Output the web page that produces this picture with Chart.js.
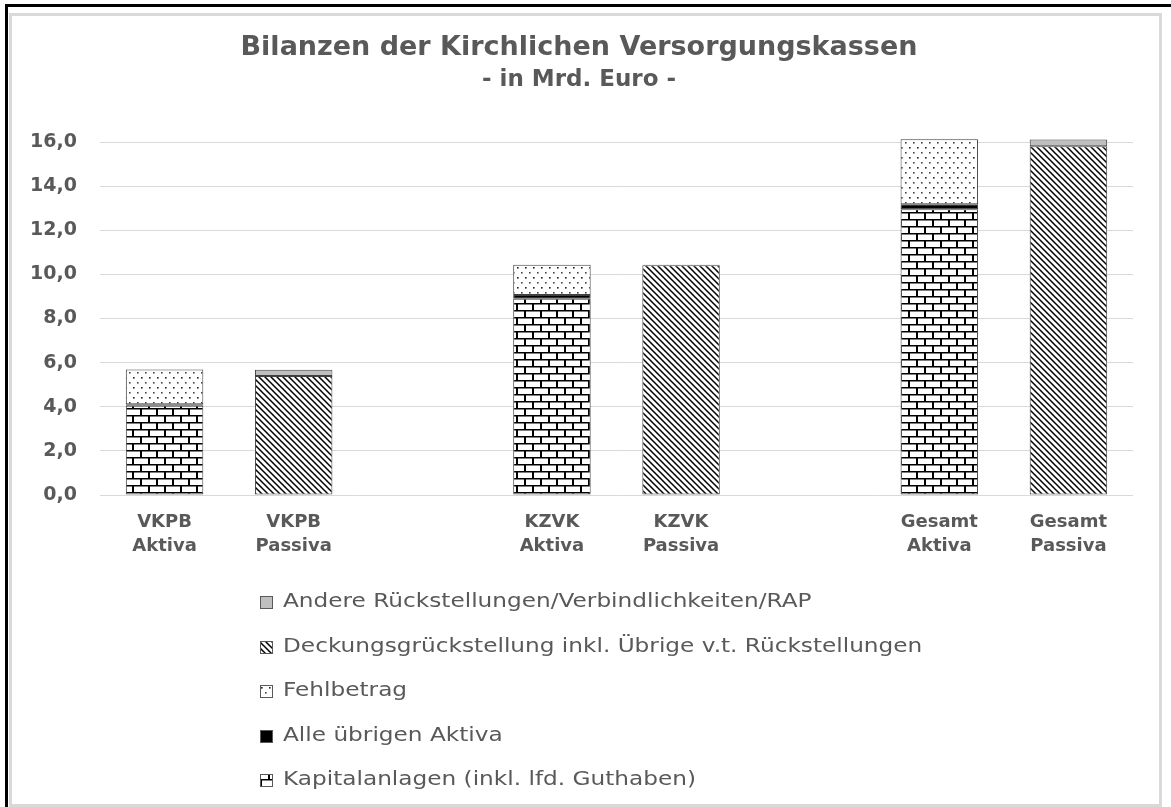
<!DOCTYPE html>
<html>
<head>
<meta charset="utf-8">
<script src="https://cdn.jsdelivr.net/npm/chart.js"></script>
<style>
  body { margin: 0; background: #fff; }
  #frame {
    position: absolute; left: 5px; top: 4px; width: 1166px; height: 803px;
    border-top: 3px solid #000; border-left: 3px solid #000; box-sizing: border-box;
  }
  #box {
    position: absolute; left: 9px; top: 13px; width: 1153px; height: 794px;
    border: 3px solid #d9d9d9; box-sizing: border-box; background: #fff;
  }
  #wrap { position: relative; width: 1147px; height: 788px; }
</style>
</head>
<body>
<div id="frame"></div>
<div id="box"><div id="wrap"><canvas id="js-bilanz-chart"></canvas></div></div>
<script>
// Categories (empty ones make the gaps between the groups)
const categories = [
  ['VKPB', 'Aktiva'], ['VKPB', 'Passiva'], '',
  ['KZVK', 'Aktiva'], ['KZVK', 'Passiva'], '',
  ['Gesamt', 'Aktiva'], ['Gesamt', 'Passiva']
];

// Series values in Mrd. Euro (stack order bottom -> top)
const kapitalanlagen = [4.05, null, null, 8.90, null, null, 12.95, null];
const uebrigeAktiva  = [0.06, null, null, 0.17, null, null, 0.23, null];
const fehlbetrag     = [1.58, null, null, 1.37, null, null, 2.95, null];
const deckung        = [null, 5.39, null, null, 10.42, null, null, 15.81];
const andere         = [null, 0.29, null, null, 0.02, null, null, 0.31];

// Tick labels of the value axis
const yTicks = [0, 2, 4, 6, 8, 10, 12, 14, 16];

const ctx = document.getElementById('js-bilanz-chart').getContext('2d');

// Small tile patterns like the Excel fills
function makePattern(w, h, draw) {
  const c = document.createElement('canvas');
  c.width = w;
  c.height = h;
  const g = c.getContext('2d');
  g.fillStyle = '#fff';
  g.fillRect(0, 0, w, h);
  draw(g);
  return ctx.createPattern(c, 'repeat');
}

const brick = makePattern(16, 14, g => {
  g.fillStyle = '#000';
  g.fillRect(0, 0, 16, 1.5);
  g.fillRect(0, 7, 16, 1.5);
  g.fillRect(0, 0, 2, 7);
  g.fillRect(8, 7, 2, 7);
});

const dots = makePattern(8, 10, g => {
  g.fillStyle = '#222';
  g.fillRect(1, 1, 1.6, 1.6);
  g.fillStyle = '#444';
  g.fillRect(5, 6, 1.6, 1.6);
});

const diagonal = makePattern(6, 6, g => {
  g.strokeStyle = '#000';
  g.lineWidth = 1.5;
  g.beginPath();
  g.moveTo(-1, -1); g.lineTo(7, 7);
  g.moveTo(-1, 5); g.lineTo(1, 7);
  g.moveTo(5, -1); g.lineTo(7, 1);
  g.stroke();
});

const textGray = '#595959';

// Legend as a vertical list under the chart
const listLegend = {
  id: 'listLegend',
  afterDraw(chart) {
    const c = chart.ctx;
    const items = chart.data.datasets.slice().reverse();
    const stretch = 1.16; // the original text runs wider than DejaVu
    c.save();
    c.font = '20px "DejaVu Sans"';
    const textW = stretch * Math.max(...items.map(d => c.measureText(d.label).width));
    const x0 = Math.round((chart.width - (23 + textW)) / 2) + 6;
    let y = chart.chartArea.bottom + 107;
    items.forEach(ds => {
      c.fillStyle = ds.backgroundColor;
      c.fillRect(x0, Math.round(y - 6), 13, 13);
      c.strokeStyle = textGray;
      c.lineWidth = 1;
      c.strokeRect(x0 + 0.5, Math.round(y - 6) + 0.5, 12, 12);
      c.save();
      c.translate(x0 + 23, y);
      c.scale(stretch, 1);
      c.fillStyle = textGray;
      c.textBaseline = 'middle';
      c.fillText(ds.label, 0, 0);
      c.restore();
      y += 44.5;
    });
    c.restore();
  }
};

const barStyle = {
  borderColor: '#404040',
  borderWidth: 1,
  borderSkipped: false,
  barPercentage: 0.6,
  categoryPercentage: 1.0,
  stack: 'bilanz'
};

const config = {
  type: 'bar',
  data: {
    labels: categories,
    datasets: [
      { ...barStyle, label: 'Kapitalanlagen (inkl. lfd. Guthaben)', data: kapitalanlagen, backgroundColor: brick },
      { ...barStyle, label: 'Alle übrigen Aktiva', data: uebrigeAktiva, backgroundColor: '#000' },
      { ...barStyle, label: 'Fehlbetrag', data: fehlbetrag, backgroundColor: dots },
      { ...barStyle, label: 'Deckungsgrückstellung inkl. Übrige v.t. Rückstellungen', data: deckung, backgroundColor: diagonal },
      { ...barStyle, label: 'Andere Rückstellungen/Verbindlichkeiten/RAP', data: andere, backgroundColor: '#BFBFBF' }
    ]
  },
  options: {
    responsive: true,
    maintainAspectRatio: false,
    animation: false,
    events: [],
    layout: { padding: { left: 13, right: 26, top: 0, bottom: 247 } },
    plugins: {
      legend: { display: false },
      tooltip: { enabled: false },
      title: {
        display: true,
        text: 'Bilanzen der Kirchlichen Versorgungskassen',
        color: textGray,
        font: { family: 'DejaVu Sans', size: 27, weight: 'bold', lineHeight: 1.2 },
        padding: { top: 16, bottom: 2 }
      },
      subtitle: {
        display: true,
        text: '- in Mrd. Euro -',
        color: textGray,
        font: { family: 'DejaVu Sans', size: 23, weight: 'bold', lineHeight: 1.2 },
        padding: { top: 0, bottom: 37 }
      }
    },
    scales: {
      x: {
        stacked: true,
        grid: { display: false },
        border: { display: false },
        afterFit: scale => { scale.height = 62; },
        ticks: {
          color: textGray,
          padding: 7,
          autoSkip: false,
          maxRotation: 0,
          font: { family: 'DejaVu Sans', size: 18, weight: 'bold', lineHeight: 1.33 }
        }
      },
      y: {
        stacked: true,
        min: 0,
        max: 16.5,
        afterFit: scale => { scale.width = 75; },
        afterBuildTicks: scale => { scale.ticks = yTicks.map(v => ({ value: v })); },
        grid: { color: '#d9d9d9', lineWidth: 1, drawTicks: false },
        border: { display: false },
        ticks: {
          color: textGray,
          padding: 23,
          font: { family: 'DejaVu Sans', size: 19, weight: 'bold' },
          callback: v => v.toFixed(1).replace('.', ',')
        }
      }
    }
  },
  plugins: [listLegend]
};

const bilanzChart = new Chart(ctx, config);
</script>
</body>
</html>
